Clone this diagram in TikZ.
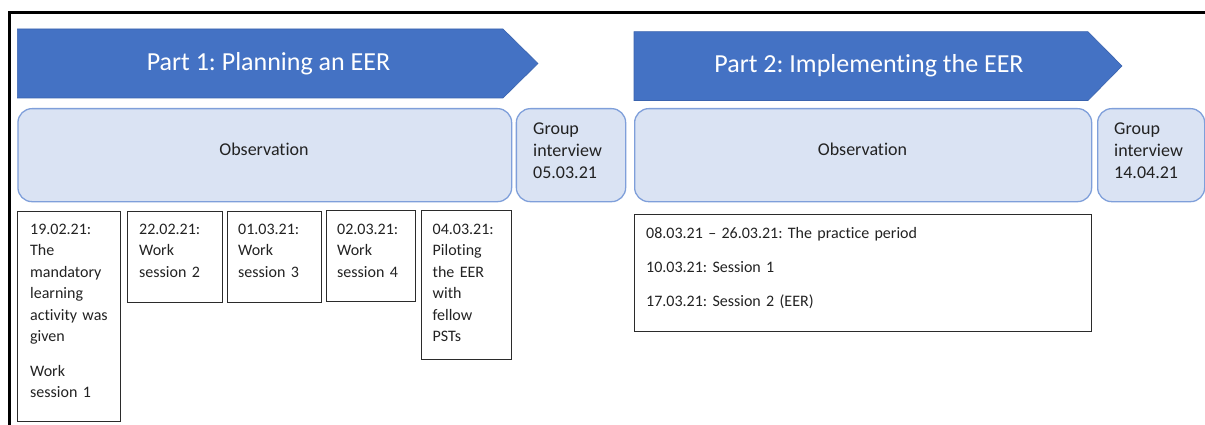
\documentclass[tikz,border=0pt]{standalone}
\usepackage{fontspec}
\setmainfont{Carlito}[Ligatures=NoCommon]
\frenchspacing
\definecolor{arrowblue}{HTML}{4472C4}
\definecolor{arrowedge}{HTML}{3A63AE}
\definecolor{obsfill}{HTML}{DAE3F3}
\definecolor{obsedge}{HTML}{7F9FDA}
\definecolor{boxedge}{HTML}{2B2B2B}
\definecolor{textcol}{HTML}{222222}
\tikzset{
  frameline/.style={line width=2.5pt, black},
  arrowshape/.style={fill=arrowblue, draw=arrowedge, line width=0.6pt, line join=miter},
  titletext/.style={text=white, font=\fontsize{26}{31}\selectfont, inner sep=0pt, anchor=base},
  obsbox/.style={rectangle, rounded corners=14pt, fill=obsfill, draw=obsedge, line width=1.3pt, inner sep=0pt, anchor=north west},
  obstext/.style={font=\fontsize{18}{22}\selectfont, text=textcol, inner sep=0pt, anchor=base},
  gitext/.style={font=\fontsize{18}{22}\selectfont, text=textcol, inner sep=0pt, anchor=base west, align=left, text width=90pt},
  datebox/.style={rectangle, draw=boxedge, line width=1.1pt, inner sep=0pt, anchor=north west},
  boxtext/.style={font=\fontsize{16}{21.5}\selectfont, text=textcol, inner sep=0pt, anchor=base west, align=left, text width=#1},
}
\begin{document}
\begin{tikzpicture}[x=1pt,y=-1pt]
\useasboundingbox (0,0) rectangle (1205,425);
% frame
\coordinate (fr1) at (1206,12.5);
\coordinate (fr2) at (9.3,12.5);
\coordinate (fr3) at (9.3,426);
\draw[frameline] (fr1) -- (fr2) -- (fr3);
% part arrows
\path[arrowshape] (17.3,29) -- (503,29) -- (538,63.5) -- (503,98) -- (17.3,98) -- cycle;
\node[titletext] (p1) at (268.5,70.5) {Part 1: Planning an EER};
\path[arrowshape] (634,31.7) -- (1088,31.7) -- (1122,66) -- (1088,100.5) -- (634,100.5) -- cycle;
\node[titletext] (p2) at (869,73) {Part 2: Implementing the EER};
% observation row
\node[obsbox, minimum width=493.7pt, minimum height=93pt] (obs1) at (17.3,108) {};
\node[obstext] (obs1t) at (264,156) {Observation};
\node[obsbox, minimum width=109.3pt, minimum height=93pt] (gi1) at (515.7,108) {};
\node[gitext] (gi1t) at (533,135) {Group\\interview\\05.03.21};
\node[obsbox, minimum width=457pt, minimum height=93pt] (obs2) at (634,108) {};
\node[obstext] (obs2t) at (862.5,156) {Observation};
\node[obsbox, minimum width=107pt, minimum height=93pt] (gi2) at (1097,108) {};
\node[gitext] (gi2t) at (1114,135) {Group\\interview\\14.04.21};
% date boxes part 1
\node[datebox, minimum width=102.7pt, minimum height=210.3pt] (b1) at (17.3,210.7) {};
\node[boxtext=95pt] (b1t) at (30,234) {19.02.21:\\The\\mandatory\\learning\\activity was\\given\\[13pt]Work\\session 1};
\node[datebox, minimum width=95.3pt, minimum height=91pt] (b2) at (126.7,211) {};
\node[boxtext=85pt] (b2t) at (139,234) {22.02.21:\\Work\\session 2};
\node[datebox, minimum width=94pt, minimum height=91pt] (b3) at (227,211) {};
\node[boxtext=85pt] (b3t) at (238,234) {01.03.21:\\Work\\session 3};
\node[datebox, minimum width=89pt, minimum height=91pt] (b4) at (326,210) {};
\node[boxtext=85pt] (b4t) at (337,234) {02.03.21:\\Work\\session 4};
\node[datebox, minimum width=90pt, minimum height=149pt] (b5) at (421,210) {};
\node[boxtext=85pt] (b5t) at (432.5,234) {04.03.21:\\Piloting\\the EER\\with\\fellow\\PSTs};
% part 2 box
\node[datebox, minimum width=457pt, minimum height=117pt] (rb) at (634,214) {};
\node[boxtext=420pt] (rbt) at (646,238.3) {08.03.21 – 26.03.21: The practice period\\[12.5pt]10.03.21: Session 1\\[12.5pt]17.03.21: Session 2 (EER)};
\end{tikzpicture}
\end{document}
